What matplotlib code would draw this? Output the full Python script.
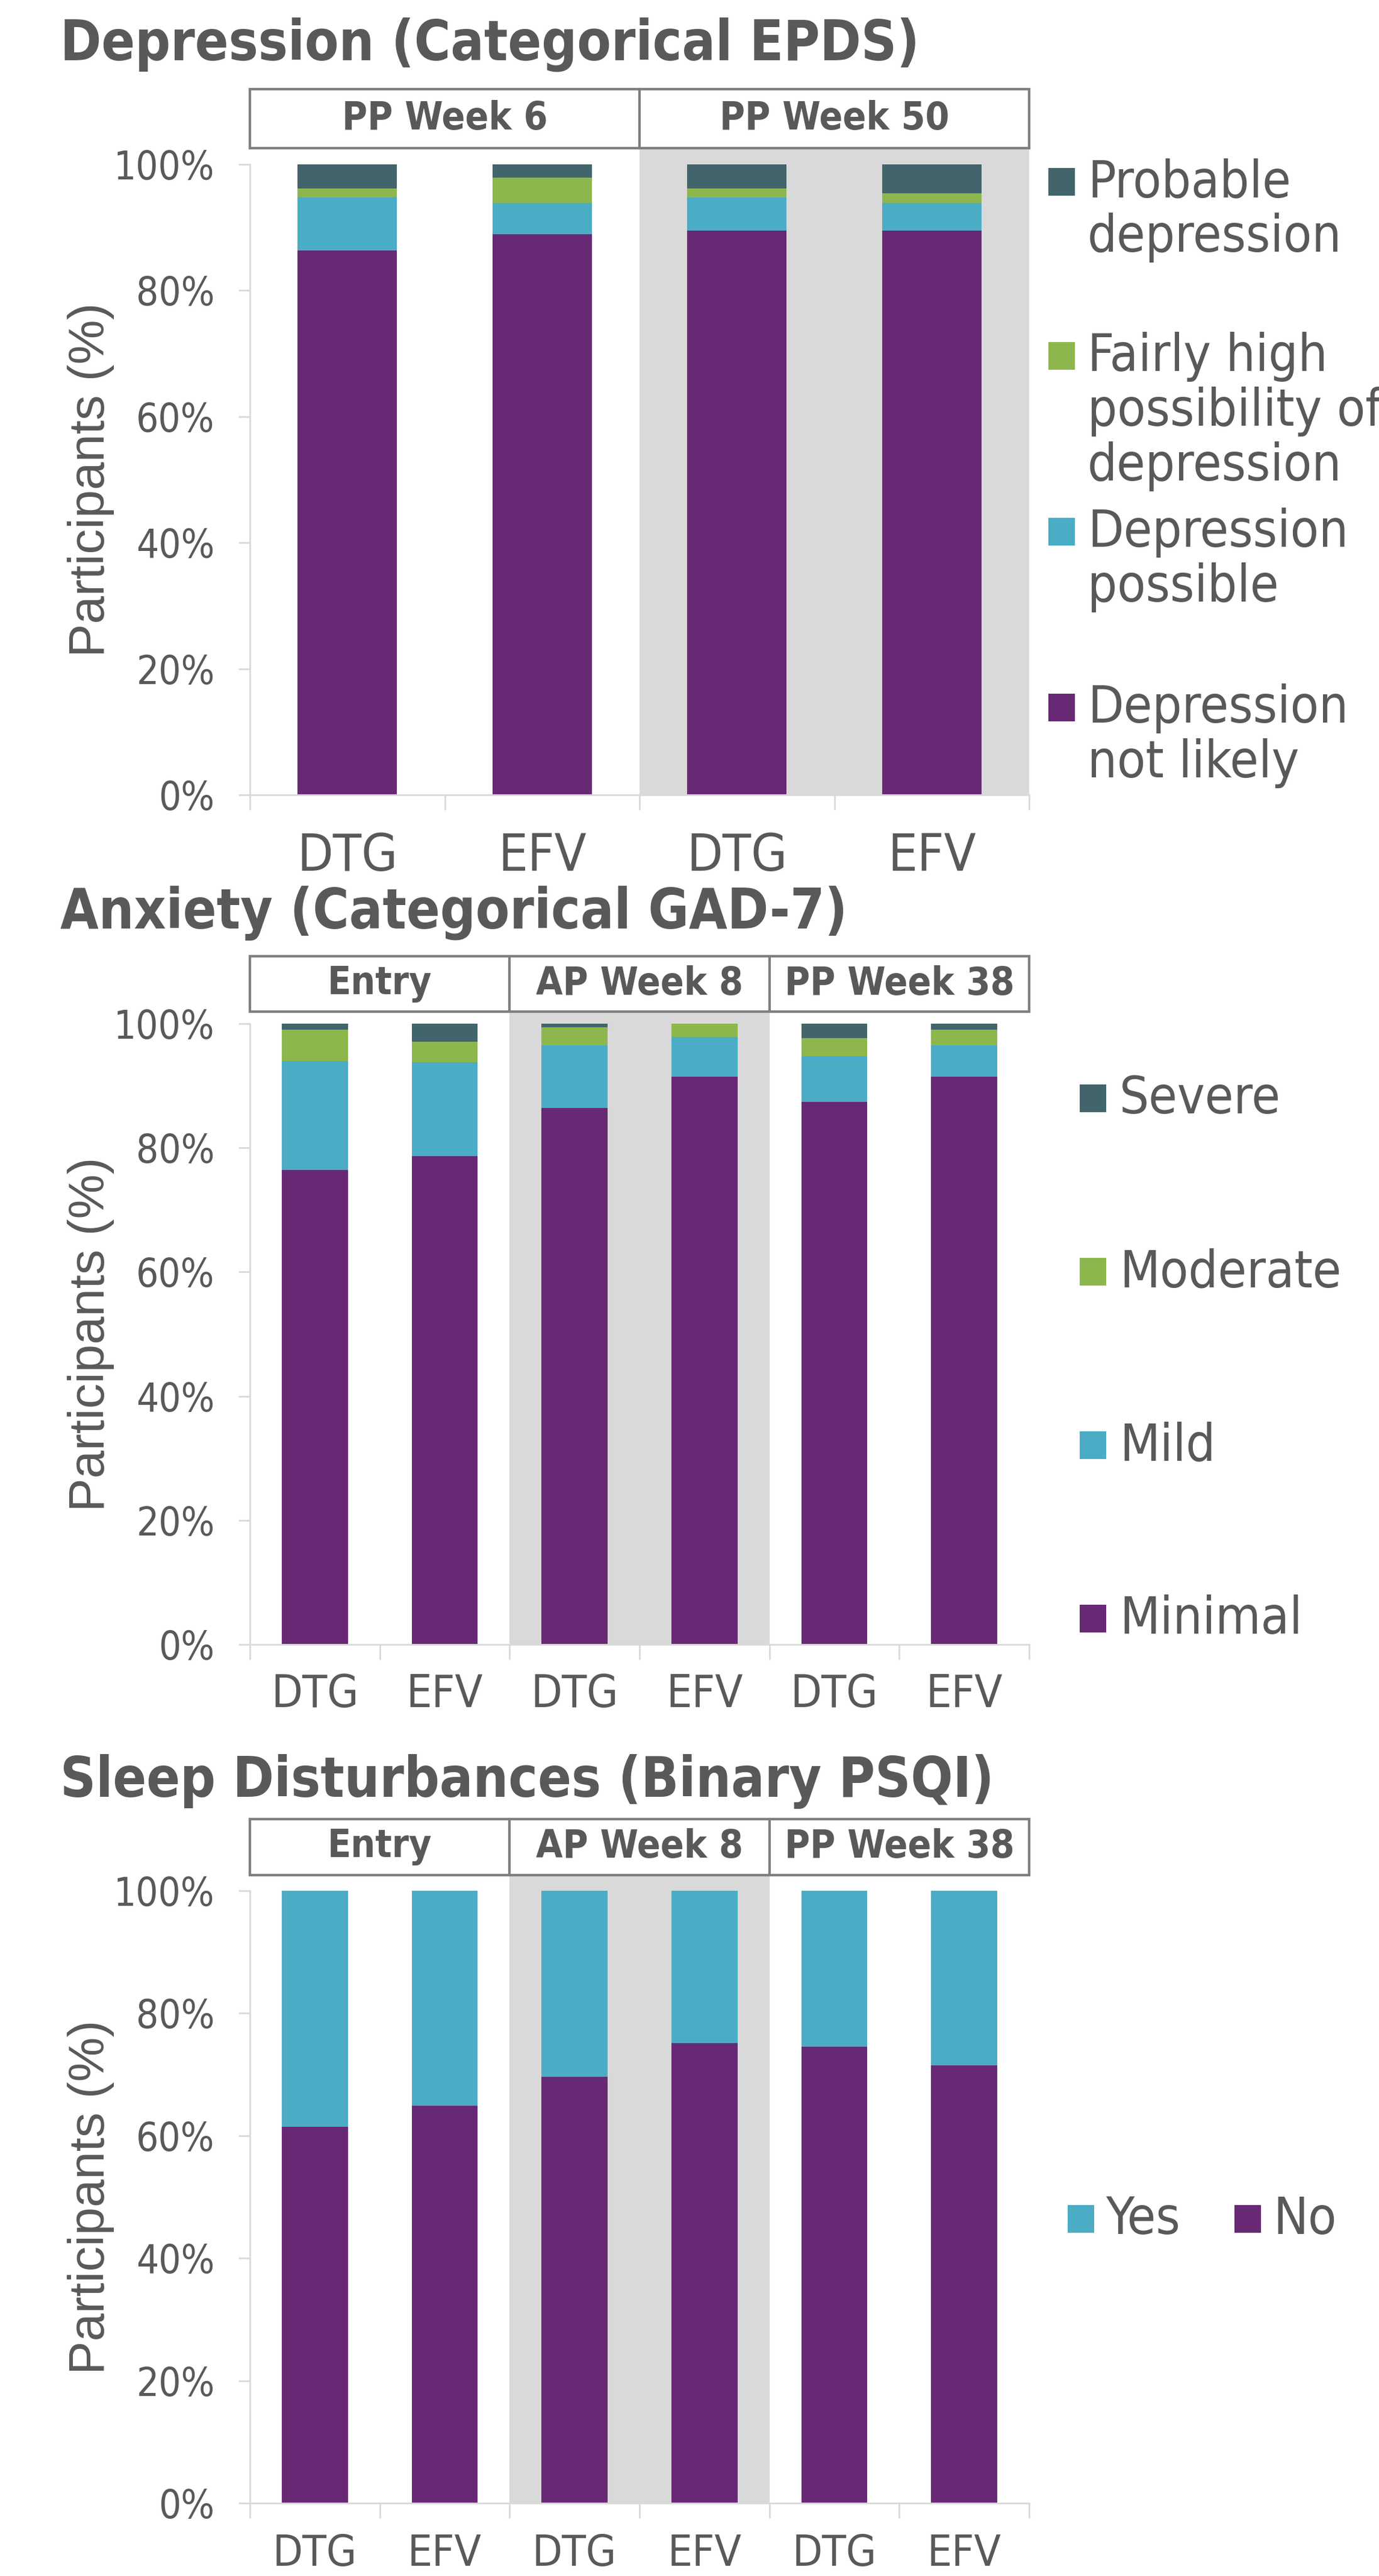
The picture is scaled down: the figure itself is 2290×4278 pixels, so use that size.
import numpy as np
import matplotlib
matplotlib.use("Agg")
import matplotlib.pyplot as plt
from matplotlib.patches import Rectangle

# ---- data ----
epds_groups = ["PP Week 6", "PP Week 50"]
epds_arms = ["DTG", "EFV", "DTG", "EFV"]
epds_not_likely = [86.3, 88.9, 89.5, 89.5]
epds_possible = [8.4, 5.0, 5.2, 4.4]
epds_fairly_high = [1.5, 4.0, 1.5, 1.5]
epds_probable = [3.8, 2.1, 3.8, 4.6]

gad_groups = ["Entry", "AP Week 8", "PP Week 38"]
gad_arms = ["DTG", "EFV", "DTG", "EFV", "DTG", "EFV"]
gad_minimal = [76.4, 78.7, 86.4, 91.5, 87.4, 91.5]
gad_mild = [17.6, 15.1, 10.1, 6.4, 7.4, 5.0]
gad_moderate = [5.0, 3.3, 2.9, 2.1, 2.9, 2.5]
gad_severe = [1.0, 2.9, 0.6, 0.0, 2.3, 1.0]

psqi_groups = ["Entry", "AP Week 8", "PP Week 38"]
psqi_arms = ["DTG", "EFV", "DTG", "EFV", "DTG", "EFV"]
psqi_no = [61.5, 64.9, 69.6, 75.1, 74.5, 71.5]
psqi_yes = [38.5, 35.1, 30.4, 24.9, 25.5, 28.5]

PURPLE = "#682974"
BLUE = "#4BACC6"
GREEN = "#8DB74D"
DARK = "#42656C"
SHADE = "#D9D9D9"
TXT = "#595959"
EDGE = "#7F7F7F"

NARROW = ["Liberation Sans Narrow", "DejaVu Sans"]
REG = ["Liberation Sans", "DejaVu Sans"]
ST = "condensed"

W, H = 2290, 4278
fig = plt.figure(figsize=(W / 100, H / 100), dpi=100)


def fx(px):
    return px / W


def fy(py):
    return 1 - py / H


def panel(title, title_y, groups, arms, series, colors, shaded,
          strip_top, strip_bot, y100, y0, xfs, tickpad):
    left, right = 415, 1709
    ax = fig.add_axes([fx(left), fy(y0), (right - left) / W, (y0 - strip_bot) / H])
    n = len(arms)
    x = np.arange(n)
    ax.set_xlim(-0.5, n - 0.5)
    top = (y0 - strip_bot) / (y0 - y100) * 100
    ax.set_ylim(0, top)

    # shaded group
    g = shaded
    ax.axvspan(2 * g - 0.5, 2 * g + 1.5, color=SHADE, zorder=0, lw=0)

    bottom = np.zeros(n)
    for vals, c in zip(series, colors):
        ax.bar(x, vals, width=0.51, bottom=bottom, color=c, zorder=2, lw=0)
        bottom = bottom + np.array(vals)

    # strip boxes
    sh = (strip_bot - strip_top) / (y0 - strip_bot)
    trans = ax.get_xaxis_transform()
    for i, lab in enumerate(groups):
        r = Rectangle((2 * i - 0.5, 1.0), 2, sh, transform=trans, clip_on=False,
                      facecolor="white", edgecolor=EDGE, lw=3, zorder=5)
        ax.add_patch(r)
        ax.text(2 * i + 0.5, 1.0 + sh / 2, lab, transform=trans, ha="center",
                va="center", fontsize=46, fontweight="bold", color=TXT,
                family=NARROW, fontstretch=ST, zorder=6)

    for s in ["top", "right"]:
        ax.spines[s].set_visible(False)
    for s in ["left", "bottom"]:
        ax.spines[s].set_color(SHADE)
        ax.spines[s].set_linewidth(2)
    ax.spines["left"].set_bounds(0, 100)

    ax.set_yticks([0, 20, 40, 60, 80, 100])
    ax.set_yticklabels(["0%", "20%", "40%", "60%", "80%", "100%"],
                       family=NARROW, fontstretch=ST, fontsize=47, color=TXT)
    ax.tick_params(axis="y", length=14, width=2, color=SHADE, pad=28)
    ax.set_xticks(x)
    ax.set_xticklabels(arms, family=NARROW, fontstretch=ST, fontsize=xfs, color=TXT)
    ax.set_xticks(np.arange(n + 1) - 0.5, minor=True)
    ax.tick_params(axis="x", which="major", length=0, pad=tickpad)
    ax.tick_params(axis="x", which="minor", length=18, width=2, color=SHADE)

    ax.set_ylabel("Participants (%)", family=REG, fontsize=60, color=TXT)
    ax.yaxis.set_label_coords((190 - left) / (right - left),
                              (y0 - (y0 + y100) / 2) / (y0 - strip_bot))

    fig.text(fx(100), fy(title_y), title, fontsize=66, fontweight="bold",
             color=TXT, family=NARROW, fontstretch=ST, va="center", ha="left")
    return ax


def legend_item(sq_x, sq_y, txt_x, txt_y, color, label):
    fig.add_artist(Rectangle((fx(sq_x), fy(sq_y + 46)), 44 / W, 46 / H,
                             transform=fig.transFigure, facecolor=color, lw=0))
    fig.text(fx(txt_x), fy(txt_y), label, fontsize=62, color=TXT, family=NARROW,
             fontstretch=ST, va="top", ha="left", linespacing=1.12)


# Panel 1: depression
panel("Depression (Categorical EPDS)", 74, epds_groups, epds_arms,
      [epds_not_likely, epds_possible, epds_fairly_high, epds_probable],
      [PURPLE, BLUE, GREEN, DARK], 1, 148, 246, 273, 1320, 62, 44)
legend_item(1741, 279, 1806, 262, DARK, "Probable\ndepression")
legend_item(1741, 568, 1806, 551, GREEN, "Fairly high\npossibility of\ndepression")
legend_item(1741, 860, 1806, 843, BLUE, "Depression\npossible")
legend_item(1741, 1152, 1806, 1135, PURPLE, "Depression\nnot likely")

# Panel 2: anxiety
panel("Anxiety (Categorical GAD-7)", 1517, gad_groups, gad_arms,
      [gad_minimal, gad_mild, gad_moderate, gad_severe],
      [PURPLE, BLUE, GREEN, DARK], 1, 1588, 1680, 1700, 2731, 54, 34)
legend_item(1793, 1801, 1859, 1784, DARK, "Severe")
legend_item(1793, 2089, 1859, 2072, GREEN, "Moderate")
legend_item(1793, 2377, 1859, 2360, BLUE, "Mild")
legend_item(1793, 2665, 1859, 2648, PURPLE, "Minimal")

# Panel 3: sleep
panel("Sleep Disturbances (Binary PSQI)", 2959, psqi_groups, psqi_arms,
      [psqi_no, psqi_yes], [PURPLE, BLUE], 1, 3021, 3114, 3140, 4157, 52, 36)
legend_item(1773, 3662, 1836, 3645, BLUE, "Yes")
legend_item(2050, 3662, 2114, 3645, PURPLE, "No")

fig.savefig("out.png", dpi=100)
